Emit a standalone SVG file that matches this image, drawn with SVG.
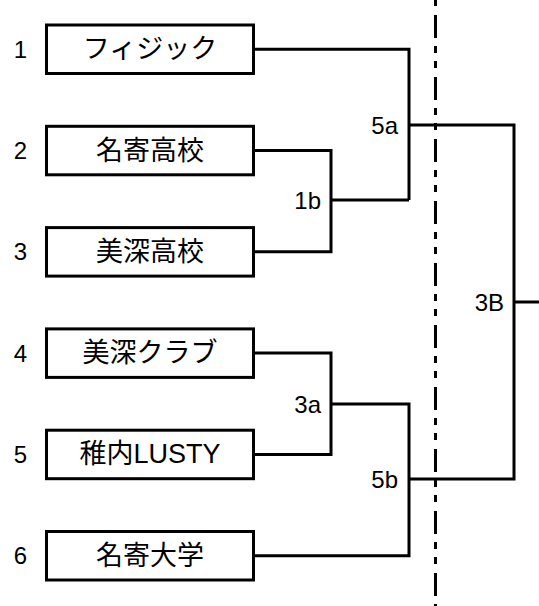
<svg xmlns="http://www.w3.org/2000/svg" width="539" height="606" viewBox="0 0 539 606">
<style>
.box{fill:#fff;stroke:#000;stroke-width:3}
.name{font-family:"Liberation Sans","Noto Sans CJK JP",sans-serif;font-size:27px;text-anchor:middle;dominant-baseline:central;fill:#000}
.num{font-family:"Liberation Sans",Arial,sans-serif;font-size:24px;text-anchor:middle;fill:#000}
.lbl{font-family:"Liberation Sans",Arial,sans-serif;font-size:24px;text-anchor:end;fill:#000}
.ln{fill:none;stroke:#000;stroke-width:3}
.div{fill:none;stroke:#000;stroke-width:3;stroke-dasharray:23 8 7 8 7 9;stroke-dashoffset:47}
</style>
<rect width="539" height="606" fill="#fff"/>
<g id="divider"><line class="div" x1="435.5" y1="0" x2="435.5" y2="606"/></g>
<g id="connectors">
<path class="ln" d="M254.5 49.3H409V200"/>
<path class="ln" d="M254.5 150.5H331V251.8H254.5"/>
<path class="ln" d="M331 200H409"/>
<path class="ln" d="M409 125H514V479H409"/>
<path class="ln" d="M514 302H539"/>
<path class="ln" d="M254.5 353.1H331V454.4H254.5"/>
<path class="ln" d="M331 404H409V555.7H254.5"/>
</g>
<g id="labels">
<text class="lbl" x="398" y="134">5a</text>
<text class="lbl" x="321" y="209">1b</text>
<text class="lbl" x="321" y="413">3a</text>
<text class="lbl" x="398" y="488">5b</text>
<text class="lbl" x="504" y="311">3B</text>
</g>
<g id="team1"><text class="num" x="20.5" y="58">1</text><rect class="box" x="46.5" y="25" width="207" height="48.5"/><text class="name" x="150" y="49.3">フィジック</text></g>
<g id="team2"><text class="num" x="20.5" y="159">2</text><rect class="box" x="46.5" y="126.3" width="207" height="48.5"/><text class="name" x="150" y="150.5">名寄高校</text></g>
<g id="team3"><text class="num" x="20.5" y="260">3</text><rect class="box" x="46.5" y="227.6" width="207" height="48.5"/><text class="name" x="150" y="251.8">美深高校</text></g>
<g id="team4"><text class="num" x="20.5" y="362">4</text><rect class="box" x="46.5" y="328.9" width="207" height="48.5"/><text class="name" x="150" y="353.1">美深クラブ</text></g>
<g id="team5"><text class="num" x="20.5" y="463">5</text><rect class="box" x="46.5" y="430.2" width="207" height="48.5"/><text class="name" x="150" y="454.4">稚内LUSTY</text></g>
<g id="team6"><text class="num" x="20.5" y="564">6</text><rect class="box" x="46.5" y="531.5" width="207" height="48.5"/><text class="name" x="150" y="555.7">名寄大学</text></g>
</svg>
